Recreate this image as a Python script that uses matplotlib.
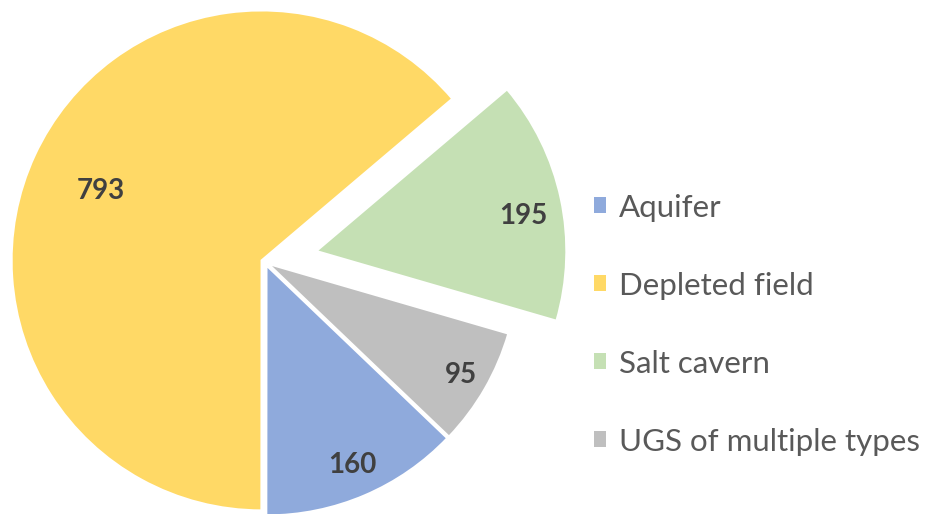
import matplotlib
matplotlib.use("Agg")
import matplotlib.pyplot as plt
from matplotlib.patches import Patch
import numpy as np

categories = ["Aquifer", "Depleted field", "Salt cavern", "UGS of multiple types"]
values = [160, 793, 195, 95]
colors = ["#8FAADC", "#FFD966", "#C5E0B4", "#BFBFBF"]
explode = [0.015, 0.015, 0.21, 0.015]
label_frac = [0.87, 0.70, 0.84, 0.89]
label_shift = [0, 1.5, -2.5, 0]

plt.rcParams['font.family'] = ['Lato', 'DejaVu Sans']

W, H = 926, 514
fig = plt.figure(figsize=(W / 100, H / 100), dpi=100)
ax = fig.add_axes([0, 0, 1, 1])
R = 250.0
cx, cy = 265.0, 262.0

start = 90 - 133.7  # first slice angle in Excel (clockwise from top)
wedges, _ = ax.pie(values, colors=colors, explode=explode, startangle=start,
                   counterclock=False, radius=1.0, center=(0, 0),
                   wedgeprops=dict(edgecolor="white", linewidth=1.5),
                   frame=True)
ax.set_xlim(-cx / R, (W - cx) / R)
ax.set_ylim(-(H - cy) / R, cy / R)
ax.set_aspect('auto')
ax.axis('off')

for w, v, f, s in zip(wedges, values, label_frac, label_shift):
    th = np.deg2rad((w.theta1 + w.theta2) / 2 + s)
    c = w.center
    x = c[0] + f * np.cos(th)
    y = c[1] + f * np.sin(th)
    ax.text(x, y, str(v), ha='center', va='center', fontsize=20,
            fontweight='bold', color='#404040')

handles = [Patch(facecolor=c, edgecolor='none') for c in colors]
leg = fig.legend(handles, categories, loc='upper left',
                 bbox_to_anchor=(581 / W, 1 - 181 / H), frameon=False,
                 fontsize=22.5, labelcolor='#595959', handlelength=0.4,
                 handleheight=0.4, handletextpad=0.42, labelspacing=1.6,
                 borderaxespad=0)

fig.savefig("out.png", dpi=100)
